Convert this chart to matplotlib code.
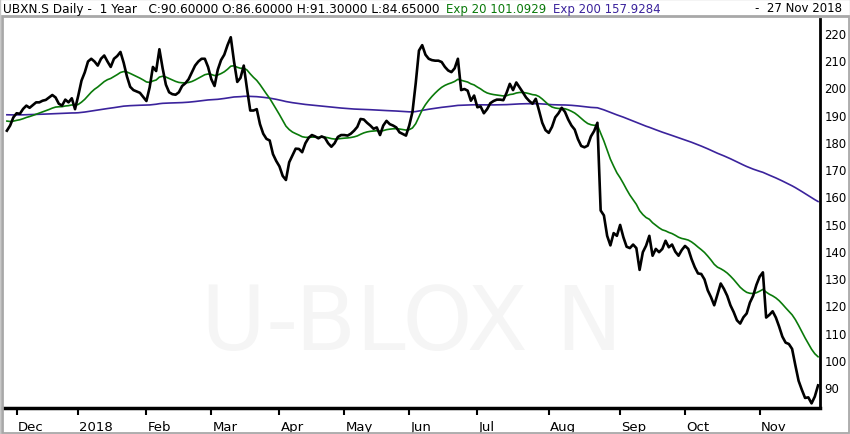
import matplotlib
matplotlib.use('Agg')
import matplotlib.pyplot as plt
import matplotlib.transforms as mt
import pandas as pd
from matplotlib.patches import Rectangle

# ---------------- data ----------------
start_date = '2017-11-28'
end_date = '2018-11-27'
holidays = ['2017-12-25', '2017-12-26', '2018-01-01', '2018-01-02', '2018-03-30',
            '2018-04-02', '2018-05-01', '2018-05-10', '2018-05-21', '2018-08-01']

close = [
    184.1, 186.0, 189.0, 190.5, 190.3, 192.1, 193.3, 192.5, 193.5, 194.5,
    194.5, 195.1, 195.4, 196.3, 197.2, 196.3, 194.0, 193.3, 195.5, 194.5,
    196.0, 192.0, 197.0, 202.5, 205.5, 209.5, 210.5, 209.5, 208.0, 210.5,
    211.7, 209.5, 207.5, 210.5, 211.5, 213.0, 209.0, 204.0, 200.2, 199.0,
    198.5, 198.0, 196.5, 195.0, 200.0, 207.5, 206.0, 214.0, 207.0, 201.0,
    198.2, 197.5, 197.3, 198.2, 200.5, 201.5, 203.0, 205.5, 208.0, 209.5,
    210.5, 210.5, 207.5, 203.0, 200.5, 206.5, 210.0, 212.0, 215.5, 218.4,
    209.5, 202.0, 203.5, 208.0, 199.5, 191.5, 191.5, 192.0, 186.5, 183.0,
    181.1, 180.5, 175.5, 173.0, 171.0, 167.5, 166.0, 172.5, 175.0, 177.5,
    177.4, 176.2, 179.5, 181.5, 182.5, 182.0, 181.3, 182.0, 181.5, 179.5,
    178.2, 179.5, 181.8, 182.5, 182.5, 182.3, 183.0, 184.1, 185.5, 188.4,
    188.2, 187.0, 186.0, 184.8, 185.3, 182.5, 186.0, 187.7, 186.5, 186.0,
    185.3, 183.5, 182.9, 182.3, 186.0, 191.0, 201.5, 213.5, 215.5, 212.0,
    210.5, 210.0, 209.8, 209.8, 209.3, 207.5, 206.2, 205.6, 207.0, 210.5,
    199.0, 199.4, 198.8, 195.1, 197.0, 192.7, 193.0, 190.5, 192.0, 194.2,
    195.0, 195.5, 195.5, 195.3, 198.0, 201.3, 199.0, 201.8, 200.0, 198.2,
    196.3, 195.0, 194.0, 195.8, 191.5, 187.0, 184.3, 183.3, 185.5, 189.0,
    190.5, 192.5, 191.0, 188.2, 186.0, 184.5, 181.0, 178.5, 178.0, 178.6,
    182.0, 184.0, 187.0, 154.8, 153.0, 145.5, 142.0, 146.5, 145.5, 149.5,
    145.0, 141.5, 141.0, 142.3, 141.0, 133.0, 139.5, 141.9, 145.5, 138.2,
    140.7, 139.5, 140.7, 143.7, 141.3, 142.3, 139.7, 138.2, 140.3, 141.8,
    140.7, 137.0, 134.0, 131.7, 131.5, 129.5, 125.5, 123.0, 120.0, 124.0,
    128.0, 126.0, 123.5, 120.0, 117.5, 114.5, 113.3, 115.6, 117.0, 121.0,
    123.5, 127.5, 130.5, 132.1, 115.5, 116.5, 117.8, 115.5, 112.2, 108.5,
    106.3, 105.8, 104.0, 98.0, 92.3, 89.0, 86.0, 86.2, 84.0, 86.5,
    90.6,
]

ema20_seed = 188.0
ema200_seed = 190.0

y_ticks = [90, 100, 110, 120, 130, 140, 150, 160, 170, 180, 190, 200, 210, 220]
month_labels = ['Dec', '2018', 'Feb', 'Mar', 'Apr', 'May', 'Jun', 'Jul',
                'Aug', 'Sep', 'Oct', 'Nov']

header_main = 'UBXN.S Daily -  1 Year   C:90.60000 O:86.60000 H:91.30000 L:84.65000'
header_ema20 = 'Exp 20 101.0929'
header_ema200 = 'Exp 200 157.9284'
header_date = '-  27 Nov 2018'
watermark = 'U-BLOX N'

# ---------------- derived ----------------
dates = pd.bdate_range(start_date, end_date)
dates = dates[~dates.isin(pd.to_datetime(holidays))]
n = min(len(dates), len(close))
dates = dates[:n]
close = close[:n]
idx = list(range(n))


def ema(values, span, seed):
    a = 2.0 / (span + 1)
    out, prev = [], seed
    for v in values:
        prev = a * v + (1 - a) * prev
        out.append(prev)
    return out


ema20 = ema(close, 20, ema20_seed)
ema200 = ema(close, 200, ema200_seed)

# first trading day of each month
s = pd.Series(idx, index=dates)
month_first = s.groupby([dates.year, dates.month]).first()
tick_pos = [int(v) for v in month_first.values][-len(month_labels):]

# ---------------- figure ----------------
W, H = 850, 435
fig = plt.figure(figsize=(W / 100, H / 100), dpi=100)
fig.patch.set_facecolor('white')

# panel frame
fig.patches.append(Rectangle((1.5 / W, 1.5 / H), (W - 3) / W, (H - 18) / H,
                             transform=fig.transFigure, fill=False,
                             edgecolor='#a8a8a8', lw=2.0))
fig.patches.append(Rectangle((0, 0), 1, 1, transform=fig.transFigure, fill=False,
                             edgecolor='#c8c8c8', lw=1.0))

ax = fig.add_axes([3 / W, 26 / H, 817 / W, 389 / H])
ax.set_facecolor('white')

ax.text(0.5, 0.215, watermark, transform=ax.transAxes, ha='center', va='center',
        fontsize=64, color='#f5f5f5', family='DejaVu Sans', zorder=0)

ax.plot(idx, ema200, color='#3b239c', lw=1.2, zorder=2)
ax.plot(idx, ema20, color='#0a7a0a', lw=1.2, zorder=3)
ax.plot(idx, close, color='black', lw=1.9, zorder=4, solid_joinstyle='round')

ax.set_xlim(-1.2, 250.6)
ax.set_ylim(82.3, 225.1)

for side in ['top', 'left']:
    ax.spines[side].set_visible(False)
ax.spines['bottom'].set_linewidth(2.5)
ax.spines['right'].set_linewidth(2.0)

ax.yaxis.tick_right()
ax.set_yticks(y_ticks)
ax.set_yticklabels([str(v) for v in y_ticks], fontsize=8.4, family='DejaVu Sans')
ax.tick_params(axis='y', length=0, pad=3)

ax.set_xticks(tick_pos)
ax.set_xticklabels(month_labels, fontsize=9.5,
                   family=['Liberation Sans Narrow', 'DejaVu Sans'], ha='left')
ax.tick_params(axis='x', length=5, width=1.5, direction='out', pad=4)
offset = mt.ScaledTranslation(1 / 100, 0, fig.dpi_scale_trans)
for lab in ax.get_xticklabels():
    lab.set_transform(lab.get_transform() + offset)

# header
hy = 1 - 9 / H
fs = 8.5
fig.text(3 / W, hy, header_main, fontsize=8.75, color='black', va='center', ha='left',
         family='DejaVu Sans')
fig.text(446 / W, hy, header_ema20, fontsize=fs, color='#0a7a0a', va='center',
         ha='left', family='DejaVu Sans')
fig.text(553 / W, hy, header_ema200, fontsize=fs, color='#3b239c', va='center',
         ha='left', family='DejaVu Sans')
fig.text(842 / W, hy, header_date, fontsize=fs, color='black', va='center',
         ha='right', family='DejaVu Sans')

fig.savefig('out.png', dpi=100, facecolor='white')
